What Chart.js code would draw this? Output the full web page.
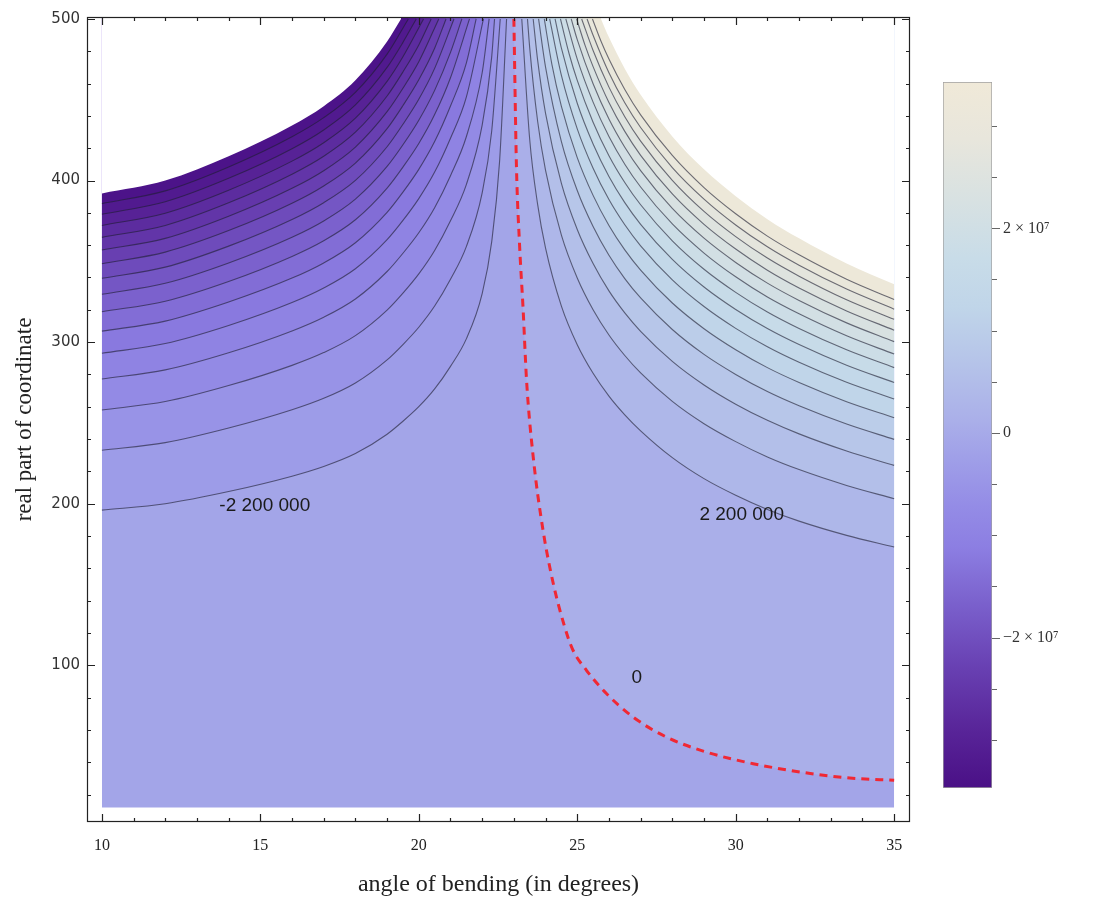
<!DOCTYPE html>
<html>
<head>
<meta charset="utf-8">
<script src="https://cdn.jsdelivr.net/npm/chart.js@4.4.1/dist/chart.umd.min.js"></script>
<style>
  html, body { margin: 0; padding: 0; background: #fff; }
  #wrap { position: relative; width: 1095px; height: 904px; }
  #main { position: absolute; left: 0; top: 0; }
  #bar { position: absolute; left: 930px; top: 0; }
</style>
</head>
<body>
<div id="wrap">
  <canvas id="main" width="930" height="904"></canvas>
  <canvas id="bar" width="165" height="904"></canvas>
</div>
<script>
// ---------- values ----------
const xTicks = [10, 15, 20, 25, 30, 35];
const yTicks = [100, 200, 300, 400, 500];
const levelStep = 2200000;                 // spacing between contour levels
const domainX = [10, 35];                  // plotted region
const domainY = [12, 500];

// colour bar
const barRange = [-34700000, 34300000];
const barTicks = [-20000000, 0, 20000000];
const barTickLabels = ['−2 × 10⁷', '0', '2 × 10⁷'];

// contours left of the zero line, levels -2.2e6, -4.4e6, ... (x, y)
const leftContours = [
  [[10,196],[12,200],[14,207.5],[16,217],[17,223],[18,231],[19,243],[19.5,251],[20,260],[20.5,271],[21,285],[21.5,302],[22,330],[22.3,362],[22.55,412],[22.77,500]],
  [[10,233.1],[12,237.8],[14,246.8],[16,258.1],[17,265.2],[18,274.7],[19,289],[19.5,298.5],[20,309.2],[20.5,322.3],[21,338.9],[21.5,359.1],[22,392.4],[22.3,430.5],[22.57,500]],
  [[10,258],[12,263.2],[14,273.1],[16,285.6],[17,293.5],[18,304],[19,319.8],[19.5,330.3],[20,342.2],[20.5,356.7],[21,375.1],[21.5,397.5],[22,434.3],[22.3,476.4],[22.39,500]],
  [[10,277.2],[12,282.8],[14,293.4],[16,306.9],[17,315.4],[18,326.7],[19,343.7],[19.5,355],[20,367.7],[20.5,383.2],[21,403],[21.5,427.1],[22,466.7],[22.22,500]],
  [[10,293.1],[12,299.1],[14,310.3],[16,324.5],[17,333.5],[18,345.4],[19,363.4],[19.5,375.3],[20,388.8],[20.5,405.2],[21,426.2],[21.5,451.6],[22.04,500]],
  [[10,306.8],[12,313],[14,324.8],[16,339.6],[17,349],[18,361.5],[19,380.3],[19.5,392.8],[20,406.9],[20.5,424.1],[21,446.1],[21.5,472.7],[21.81,500]],
  [[10,318.8],[12,325.3],[14,337.5],[16,353],[17,362.7],[18,375.7],[19,395.3],[19.5,408.3],[20,422.9],[20.5,440.8],[21,463.6],[21.6,500]],
  [[10,329.6],[12,336.4],[14,349],[16,364.9],[17,375],[18,388.5],[19,408.7],[19.5,422.1],[20,437.3],[20.5,455.8],[21,479.3],[21.36,500]],
  [[10,339.5],[12,346.4],[14,359.4],[16,375.9],[17,386.3],[18,400.1],[19,420.9],[19.5,434.8],[20,450.3],[20.5,469.4],[21.11,500]],
  [[10,348.5],[12,355.7],[14,369],[16,385.9],[17,396.6],[18,410.8],[19,432.1],[19.5,446.4],[20,462.4],[20.5,481.9],[20.86,500]],
  [[10,357],[12,364.2],[14,377.9],[16,395.2],[17,406.1],[18,420.7],[19,442.6],[19.5,457.1],[20,473.5],[20.63,500]],
  [[10,364.8],[12,372.2],[14,386.2],[16,403.9],[17,415],[18,429.9],[19,452.3],[19.5,467.2],[20,483.9],[20.39,500]],
  [[10,372.2],[12,379.8],[14,394],[16,412],[17,423.4],[18,438.6],[19,461.4],[19.5,476.6],[20.15,500]],
  [[10,379.1],[12,386.9],[14,401.4],[16,419.7],[17,431.3],[18,446.8],[19,470],[19.5,485.5],[19.92,500]],
  [[10,385.7],[12,393.6],[14,408.4],[16,427.1],[17,438.9],[18,454.6],[19,478.2],[19.67,500]]
];
// edge where the left values leave the plot range
const leftEdge = [[10,392],[12,400],[14,415],[16,434],[17,446],[18,462],[19,486],[19.44,500]];

// contours right of the zero line, levels 2.2e6, 4.4e6, ...
const rightContours = [
  [[23.25,500],[23.5,425.4],[23.75,385.2],[24,358.1],[24.5,322.3],[25,298.4],[25.5,280.7],[26,266.6],[26.5,255],[27,245.1],[28,228.5],[29,215.5],[30,205.2],[31,196.4],[32,189.2],[33.5,180.4],[35,173.2]],
  [[23.43,500],[23.5,482.1],[23.75,436.7],[24,406.3],[24.5,366.2],[25,339.7],[25.5,320],[26,304.4],[26.5,291.7],[27,280.9],[28,263.3],[29,249.5],[30,238.4],[31,228.9],[32,221.1],[33.5,211.3],[35,203.1]],
  [[23.61,500],[23.75,474.5],[24,441.6],[24.5,398.2],[25,369.7],[25.5,348.6],[26,331.7],[26.5,318.1],[27,306.7],[28,288.1],[29,273.5],[30,261.6],[31,251.6],[32,243.2],[33.5,232.6],[35,223.7]],
  [[23.78,500],[24,470.2],[24.5,424.1],[25,393.8],[25.5,371.5],[26,353.7],[26.5,339.3],[27,327.3],[28,307.8],[29,292.4],[30,280],[31,269.4],[32,260.6],[33.5,249.3],[35,239.8]],
  [[23.96,500],[24.2,471.9],[24.5,445.9],[25,414.2],[25.5,390.8],[26,372.2],[26.5,357.1],[27,344.6],[28,324.2],[29,308.3],[30,295.3],[31,284.2],[32,275],[33.5,263.1],[35,253.2]],
  [[24.13,500],[24.5,465],[25,432],[25.5,407.6],[26,388.2],[26.5,372.6],[27,359.6],[28,338.5],[29,322],[30,308.5],[31,297.1],[32,287.5],[33.5,275.1],[35,264.8]],
  [[24.3,500],[24.5,481.9],[25,447.8],[25.5,422.6],[26,402.5],[26.5,386.3],[27,372.9],[28,351.2],[29,334.1],[30,320.2],[31,308.4],[32,298.5],[33.5,285.7],[35,275]],
  [[24.47,500],[24.75,478],[25,462],[25.5,436.1],[26,415.4],[26.5,398.8],[27,385],[28,362.7],[29,345.1],[30,330.8],[31,318.6],[32,308.4],[33.5,295.2],[35,284.2]],
  [[24.64,500],[25,475.1],[25.5,448.5],[26,427.2],[26.5,410.1],[27,396],[28,373.1],[29,355.1],[30,340.4],[31,327.9],[32,317.5],[33.5,303.9],[35,292.6]],
  [[24.81,500],[25,487.2],[25.5,459.9],[26,438.1],[26.5,420.6],[27,406.1],[28,382.7],[29,364.3],[30,349.3],[31,336.5],[32,325.8],[33.5,311.9],[35,300.3]],
  [[24.98,500],[25.25,483.5],[25.5,470.5],[26,448.3],[26.5,430.4],[27,415.6],[28,391.7],[29,372.9],[30,357.6],[31,344.5],[32,333.5],[33.5,319.3],[35,307.4]],
  [[25.14,500],[25.5,480.5],[26,457.8],[26.5,439.5],[27,424.4],[28,400.1],[29,380.9],[30,365.3],[31,352],[32,340.8],[33.5,326.2],[35,314.1]],
  [[25.31,500],[25.5,489.9],[26,466.7],[26.5,448.1],[27,432.8],[28,408],[29,388.5],[30,372.5],[31,359],[32,347.6],[33.5,332.8],[35,320.4]],
  [[25.48,500],[25.75,486.2],[26,475.2],[26.5,456.3],[27,440.6],[28,415.5],[29,395.6],[30,379.4],[31,365.6],[32,354],[33.5,338.9],[35,326.3]]
];
const rightEdge = [[25.75,500],[26,488.6],[26.5,469.2],[27,453.1],[28,427.3],[29,406.9],[30,390.3],[31,376.1],[32,364.2],[33.5,348.7],[35,335.8]];

// the zero contour (red dashed)
const zeroLine = [[23,500],[23.08,410],[23.18,360],[23.29,321],[23.4,276.5],[23.61,229],[23.92,183.6],[24.25,150],[24.6,124],[24.85,110],[25.29,96.9],[25.92,82.5],[26.76,68],[27.81,55.6],[29.07,46.3],[30.55,39.1],[32.02,34],[33.6,30.2],[35,28.8]];

// contour labels
const labelTexts = ['-2 200 000', '2 200 000', '0'];
const labelX = [15.14, 30.19, 26.88];
const labelY = [199, 193, 92];

// ---------- colour scale (LakeColors-like) ----------
const lakeStops = [
  [0.00, 74, 16, 134], [0.08, 88, 36, 152], [0.17, 104, 64, 178], [0.26, 122, 96, 204],
  [0.34, 140, 126, 226], [0.40, 148, 140, 230], [0.47, 160, 160, 232], [0.52, 170, 175, 233],
  [0.60, 181, 195, 233], [0.68, 192, 213, 233], [0.75, 200, 220, 232], [0.83, 215, 225, 226],
  [0.92, 232, 230, 220], [1.00, 240, 233, 216]
];
function stopRgb(s) { return 'rgb(' + s[1] + ',' + s[2] + ',' + s[3] + ')'; }
function lakeColor(v) {
  const t = Math.max(0, Math.min(1, (v - barRange[0]) / (barRange[1] - barRange[0])));
  for (let i = 1; i < lakeStops.length; i++) {
    if (t <= lakeStops[i][0]) {
      const a = lakeStops[i - 1], b = lakeStops[i];
      const f = (t - a[0]) / (b[0] - a[0]);
      return 'rgb(' + [1, 2, 3].map(j => Math.round(a[j] + (b[j] - a[j]) * f)).join(',') + ')';
    }
  }
  return stopRgb(lakeStops[lakeStops.length - 1]);
}

// ---------- datasets ----------
const toPts = arr => arr.map(p => ({ x: p[0], y: p[1] }));
const contourStroke = 'rgba(30,30,50,0.62)';
const datasets = [];
function addLine(pts, opts) {
  datasets.push(Object.assign({
    data: toPts(pts), pointRadius: 0, pointHoverRadius: 0, borderWidth: 0,
    borderColor: 'rgba(0,0,0,0)', fill: false, cubicInterpolationMode: 'monotone'
  }, opts));
}

// base band (-2.2e6 .. 0), filled from the bottom of the domain upwards
addLine([[domainX[0], domainY[0]], [domainX[1], domainY[0]]],
  { fill: 'end', backgroundColor: lakeColor(-levelStep / 2), cubicInterpolationMode: 'default', tension: 0 });
// band 0 .. 2.2e6, right of the zero contour
addLine(zeroLine, { fill: 'end', backgroundColor: lakeColor(levelStep / 2) });

leftContours.forEach((c, k) => {
  const lo = -(k + 1) * levelStep;
  const hi = k === leftContours.length - 1 ? barRange[0] : lo - levelStep;
  addLine(c, { fill: 'end', backgroundColor: lakeColor((lo + hi) / 2), borderColor: contourStroke, borderWidth: 1.1 });
});
rightContours.forEach((c, k) => {
  const lo = (k + 1) * levelStep;
  const hi = k === rightContours.length - 1 ? barRange[1] : lo + levelStep;
  addLine(c, { fill: 'end', backgroundColor: lakeColor((lo + hi) / 2), borderColor: contourStroke, borderWidth: 1.1 });
});
// outside the plot range: blank
addLine(leftEdge, { fill: 'end', backgroundColor: '#ffffff' });
addLine(rightEdge, { fill: 'end', backgroundColor: '#ffffff' });
// zero contour on top
addLine(zeroLine, { borderColor: 'rgb(240,40,52)', borderWidth: 3, borderDash: [8, 6] });

// first pushed = painted first
datasets.forEach((d, i) => { d.order = datasets.length - i; });

// ---------- plugins ----------
const framePlugin = {
  id: 'frame',
  afterDatasetsDraw(chart) {
    const { ctx, chartArea: a, scales: { x, y } } = chart;
    ctx.save();
    ctx.strokeStyle = '#222';
    ctx.lineWidth = 1.2;
    ctx.strokeRect(a.left + 0.5, a.top + 0.5, a.right - a.left - 1, a.bottom - a.top - 1);
    ctx.beginPath();
    for (let v = xTicks[0]; v <= xTicks[xTicks.length - 1]; v++) {
      const px = Math.round(x.getPixelForValue(v)) + 0.5;
      const len = xTicks.includes(v) ? 8 : 4;
      ctx.moveTo(px, a.bottom); ctx.lineTo(px, a.bottom - len);
      ctx.moveTo(px, a.top); ctx.lineTo(px, a.top + len);
    }
    for (let v = 20; v <= yTicks[yTicks.length - 1]; v += 20) {
      const py = Math.round(y.getPixelForValue(v)) + 0.5;
      const len = yTicks.includes(v) ? 8 : 4;
      ctx.moveTo(a.left, py); ctx.lineTo(a.left + len, py);
      ctx.moveTo(a.right, py); ctx.lineTo(a.right - len, py);
    }
    ctx.stroke();
    ctx.restore();
  }
};

const labelPlugin = {
  id: 'contourLabels',
  afterDatasetsDraw(chart) {
    const { ctx, scales: { x, y } } = chart;
    ctx.save();
    ctx.font = '19px "Liberation Sans", Arial, sans-serif';
    ctx.fillStyle = '#1a1a1a';
    ctx.textAlign = 'center';
    ctx.textBaseline = 'middle';
    labelTexts.forEach((t, i) => ctx.fillText(t, x.getPixelForValue(labelX[i]), y.getPixelForValue(labelY[i])));
    ctx.restore();
  }
};

new Chart(document.getElementById('main'), {
  type: 'line',
  data: { datasets },
  options: {
    responsive: false,
    animation: false,
    devicePixelRatio: 1,
    layout: { padding: { top: 17, right: 20, left: 0, bottom: 0 } },
    plugins: {
      legend: { display: false },
      tooltip: { enabled: false },
      filler: { drawTime: 'beforeDatasetsDraw', propagate: false }
    },
    scales: {
      x: {
        type: 'linear', min: 9.53, max: 35.5,
        grid: { display: false, drawTicks: false }, border: { display: false },
        afterBuildTicks: s => { s.ticks = xTicks.map(v => ({ value: v })); },
        afterFit: s => { s.height = 82; },
        ticks: { font: { family: 'Liberation Serif', size: 16 }, color: '#222', padding: 14, maxRotation: 0 },
        title: { display: true, text: 'angle of bending (in degrees)', color: '#222',
                 font: { family: 'Liberation Serif', size: 24 }, padding: { top: 0, bottom: 5 } }
      },
      y: {
        type: 'linear', min: 3, max: 501.2,
        grid: { display: false, drawTicks: false }, border: { display: false },
        afterBuildTicks: s => { s.ticks = yTicks.map(v => ({ value: v })); },
        afterFit: s => { s.width = 87; },
        ticks: { font: { family: 'DejaVu Sans', size: 15 }, color: '#333', padding: 7 },
        title: { display: true, text: 'real part of coordinate', color: '#222',
                 font: { family: 'Liberation Serif', size: 23 }, padding: { top: 11, bottom: 0 } }
      }
    }
  },
  plugins: [framePlugin, labelPlugin]
});

// ---------- colour bar ----------
const barTickPlugin = {
  id: 'barTicks',
  afterDraw(chart) {
    const { ctx, chartArea: a, scales: { y } } = chart;
    ctx.save();
    ctx.strokeStyle = '#666';
    ctx.lineWidth = 1;
    ctx.beginPath();
    y.ticks.forEach(t => {
      const py = Math.round(y.getPixelForValue(t.value)) + 0.5;
      const len = barTicks.includes(t.value) ? 8 : 5;
      ctx.moveTo(a.right, py); ctx.lineTo(a.right + len, py);
    });
    ctx.stroke();
    ctx.restore();
  }
};

function barGradient(chart) {
  const a = chart.chartArea;
  if (!a) return null;
  const g = chart.ctx.createLinearGradient(0, a.bottom, 0, a.top);
  lakeStops.forEach(s => g.addColorStop(s[0], stopRgb(s)));
  return g;
}

new Chart(document.getElementById('bar'), {
  type: 'bar',
  data: {
    labels: [''],
    datasets: [{
      data: [barRange],
      backgroundColor: c => barGradient(c.chart),
      borderColor: '#a0a0a0', borderWidth: 1, borderSkipped: false,
      barPercentage: 1, categoryPercentage: 1
    }]
  },
  options: {
    responsive: false,
    animation: false,
    devicePixelRatio: 1,
    layout: { padding: { left: 13, top: 82, bottom: 116, right: 0 } },
    plugins: { legend: { display: false }, tooltip: { enabled: false } },
    scales: {
      x: { display: false },
      y: {
        position: 'right', min: barRange[0], max: barRange[1],
        grid: { display: false, drawTicks: false }, border: { display: false },
        afterBuildTicks: s => {
          const t = [];
          for (let v = -30000000; v <= 30000000; v += 5000000) t.push({ value: v });
          s.ticks = t;
        },
        afterFit: s => { s.width = 103; },
        ticks: {
          callback: v => { const i = barTicks.indexOf(v); return i >= 0 ? barTickLabels[i] : ''; },
          font: { family: 'Liberation Serif', size: 16 }, color: '#333', padding: 11
        }
      }
    }
  },
  plugins: [barTickPlugin]
});
</script>
</body>
</html>
